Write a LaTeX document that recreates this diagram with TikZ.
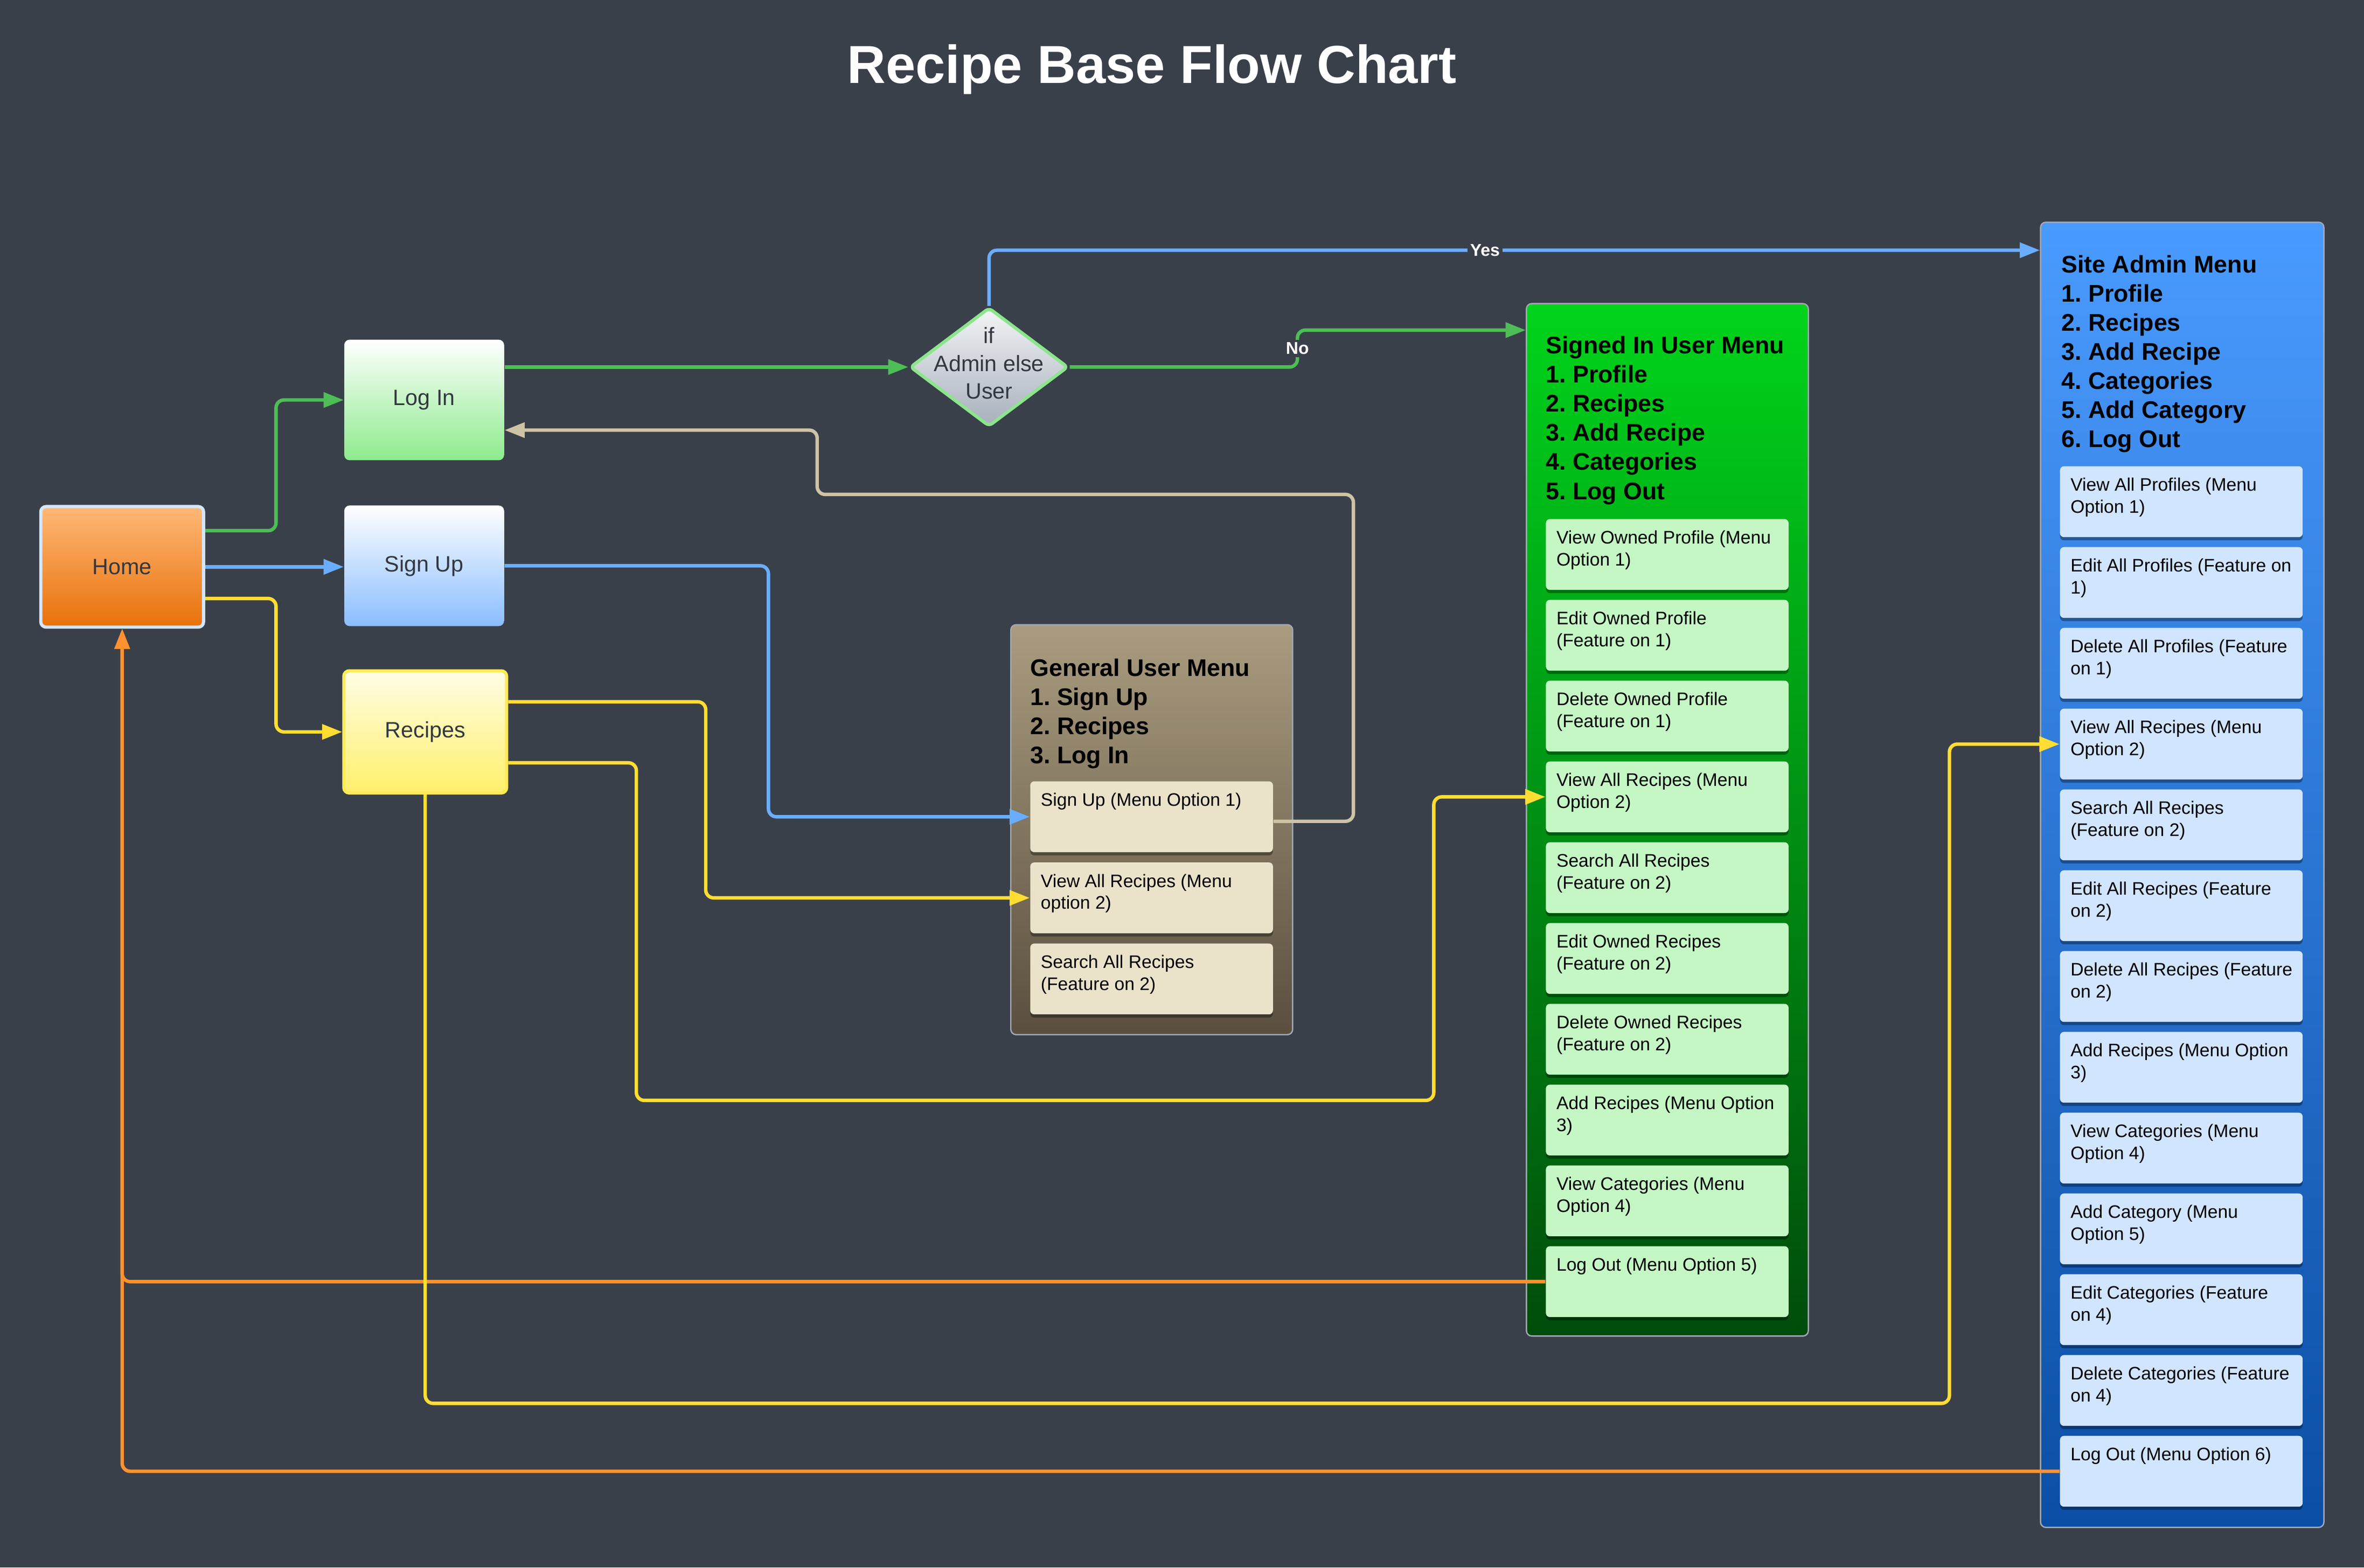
\documentclass[tikz,border=0pt]{standalone}
\usepackage{fontspec}
\setmainfont{Liberation Sans}
\usetikzlibrary{arrows.meta,shapes.geometric,shadows}
\frenchspacing
\definecolor{bg}{HTML}{3A404A}
\definecolor{hometop}{HTML}{FFB877}
\definecolor{homebot}{HTML}{E8710A}
\definecolor{homebd}{HTML}{D3E6FF}
\definecolor{loginbot}{HTML}{8DEB8D}
\definecolor{signupbot}{HTML}{8ABDFF}
\definecolor{rectop}{HTML}{FFFDE6}
\definecolor{recbot}{HTML}{FFF06A}
\definecolor{recbd}{HTML}{FFEB55}
\definecolor{dectop}{HTML}{F3F4F6}
\definecolor{decbot}{HTML}{A7B0BC}
\definecolor{decbd}{HTML}{8BE68B}
\definecolor{gcol}{HTML}{4DBE55}
\definecolor{bcol}{HTML}{6AADFF}
\definecolor{ycol}{HTML}{FFDD33}
\definecolor{tcol}{HTML}{CFC3A5}
\definecolor{ocol}{HTML}{FF922E}
\definecolor{gentop}{HTML}{A99C7F}
\definecolor{genbot}{HTML}{5A4F3F}
\definecolor{sigtop}{HTML}{00D41B}
\definecolor{sigbot}{HTML}{004C0B}
\definecolor{admtop}{HTML}{4A9BFF}
\definecolor{admbot}{HTML}{0B4EA5}
\definecolor{gsub}{HTML}{EAE3CA}
\definecolor{ssub}{HTML}{C5F7C5}
\definecolor{asub}{HTML}{D1E5FF}
\definecolor{menubd}{HTML}{A3A9B3}
\definecolor{boxtext}{HTML}{333840}
\newcommand\stx[2]{\vtop to 0.628cm{\hbox to 2.94cm{#1\hss}\hbox to 2.94cm{#2\hss}\vss}}
\begin{document}
\begin{tikzpicture}[x=0.02cm,y=-0.02cm,
  mainbox/.style={anchor=north west, rounded corners=2pt, inner sep=0pt,
    text=boxtext, font=\fontsize{8.4}{10}\selectfont},
  menubox/.style={anchor=north west, rounded corners=2pt, draw=menubd, line width=0.5pt, inner sep=0pt},
  hdr/.style={anchor=north west, inner sep=0pt, align=left, text=black,
    font=\fontsize{9.1}{11}\selectfont\bfseries},
  sub/.style={anchor=north west, rounded corners=1.5pt, minimum width=3.22cm, minimum height=0.94cm,
    inner xsep=0.14cm, inner ysep=0.156cm, text=black, font=\fontsize{6.85}{8.25}\selectfont,
    drop shadow={shadow xshift=0pt, shadow yshift=-1.2pt, opacity=0.35, fill=black}},
  conn/.style={line width=1.3pt, rounded corners=3pt, -{Triangle[length=7.6pt,width=5.6pt]}},
  lbl/.style={fill=bg, inner sep=1pt, text=white, font=\fontsize{6.5}{7}\selectfont\bfseries}
]
\fill[bg] (0,0) rectangle (1568,1040);
\useasboundingbox (0,0) rectangle (1568,1040);

\node[anchor=base, inner sep=0pt, text=white, font=\fontsize{20.2}{24}\selectfont\bfseries] (title) at (764,55.1) {Recipe Base Flow Chart};

% main nodes
\node[mainbox, top color=hometop, bottom color=homebot, draw=homebd, line width=1.2pt,
  minimum width=2.16cm, minimum height=1.6cm] (home) at (26,335) {Home};
\node[mainbox, top color=white, bottom color=loginbot,
  minimum width=2.12cm, minimum height=1.6cm] (login) at (228,225) {Log In};
\node[mainbox, top color=white, bottom color=signupbot,
  minimum width=2.12cm, minimum height=1.6cm] (signup) at (228,335) {Sign Up};
\node[mainbox, top color=rectop, bottom color=recbot, draw=recbd, line width=1.2pt,
  minimum width=2.16cm, minimum height=1.62cm] (recipes) at (227,444) {Recipes};

% decision
\node[diamond, minimum width=2.1cm, minimum height=1.58cm, inner sep=0pt, rounded corners=1.5pt,
  top color=dectop, bottom color=decbot, draw=decbd, line width=1.2pt] (dec) at (656,243.5) {};
\node[align=center, inner sep=0pt, text=boxtext, font=\fontsize{8.4}{10.5}\selectfont] (dect) at (656,241) {if\\Admin else\\User};

% general user menu
\node[menubox, top color=gentop, bottom color=genbot, minimum width=3.74cm, minimum height=5.44cm] (gen) at (670,414) {};
\node[hdr] (genh) at (683,436.6) {General User Menu\\1. Sign Up\\2. Recipes\\3. Log In};
\node[sub, fill=gsub] (gsu) at (683,518) {\stx{Sign Up (Menu Option 1)}{}};
\node[sub, fill=gsub] (gva) at (683,571.8) {\stx{View All Recipes (Menu}{option 2)}};
\node[sub, fill=gsub] (gsa) at (683,625.6) {\stx{Search All Recipes}{(Feature on 2)}};

% signed in user menu
\node[menubox, top color=sigtop, bottom color=sigbot, minimum width=3.74cm, minimum height=13.7cm] (signed) at (1012,201) {};
\node[hdr] (signedh) at (1025,222.7) {Signed In User Menu\\1. Profile\\2. Recipes\\3. Add Recipe\\4. Categories\\5. Log Out};
\node[sub, fill=ssub] (s1) at (1025,344) {\stx{View Owned Profile (Menu}{Option 1)}};
\node[sub, fill=ssub] (s2) at (1025,397.6) {\stx{Edit Owned Profile}{(Feature on 1)}};
\node[sub, fill=ssub] (s3) at (1025,451.2) {\stx{Delete Owned Profile}{(Feature on 1)}};
\node[sub, fill=ssub] (sva) at (1025,504.8) {\stx{View All Recipes (Menu}{Option 2)}};
\node[sub, fill=ssub] (s5) at (1025,558.4) {\stx{Search All Recipes}{(Feature on 2)}};
\node[sub, fill=ssub] (s6) at (1025,612) {\stx{Edit Owned Recipes}{(Feature on 2)}};
\node[sub, fill=ssub] (s7) at (1025,665.6) {\stx{Delete Owned Recipes}{(Feature on 2)}};
\node[sub, fill=ssub] (s8) at (1025,719.2) {\stx{Add Recipes (Menu Option}{3)}};
\node[sub, fill=ssub] (s9) at (1025,772.8) {\stx{View Categories (Menu}{Option 4)}};
\node[sub, fill=ssub] (slo) at (1025,826.4) {\stx{Log Out (Menu Option 5)}{}};

% site admin menu
\node[menubox, top color=admtop, bottom color=admbot, minimum width=3.76cm, minimum height=17.32cm] (admin) at (1353,147) {};
\node[hdr] (adminh) at (1367,168.9) {Site Admin Menu\\1. Profile\\2. Recipes\\3. Add Recipe\\4. Categories\\5. Add Category\\6. Log Out};
\node[sub, fill=asub] (a1) at (1366,309) {\stx{View All Profiles (Menu}{Option 1)}};
\node[sub, fill=asub] (a2) at (1366,362.6) {\stx{Edit All Profiles (Feature on}{1)}};
\node[sub, fill=asub] (a3) at (1366,416.2) {\stx{Delete All Profiles (Feature}{on 1)}};
\node[sub, fill=asub] (ava) at (1366,469.8) {\stx{View All Recipes (Menu}{Option 2)}};
\node[sub, fill=asub] (a5) at (1366,523.4) {\stx{Search All Recipes}{(Feature on 2)}};
\node[sub, fill=asub] (a6) at (1366,577) {\stx{Edit All Recipes (Feature}{on 2)}};
\node[sub, fill=asub] (a7) at (1366,630.6) {\stx{Delete All Recipes (Feature}{on 2)}};
\node[sub, fill=asub] (a8) at (1366,684.2) {\stx{Add Recipes (Menu Option}{3)}};
\node[sub, fill=asub] (a9) at (1366,737.8) {\stx{View Categories (Menu}{Option 4)}};
\node[sub, fill=asub] (a10) at (1366,791.4) {\stx{Add Category (Menu}{Option 5)}};
\node[sub, fill=asub] (a11) at (1366,845) {\stx{Edit Categories (Feature}{on 4)}};
\node[sub, fill=asub] (a12) at (1366,898.6) {\stx{Delete Categories (Feature}{on 4)}};
\node[sub, fill=asub] (alo) at (1366,952.2) {\stx{Log Out (Menu Option 6)}{}};

% connectors
\draw[conn, draw=ocol, -{Triangle[length=7.6pt,width=5.6pt,fill=ocol]}] (slo.west) -| (home.south);
\draw[conn, draw=ocol, -{Triangle[length=7.6pt,width=5.6pt,fill=ocol]}] (alo.west) -| (home.south);
\draw[conn, draw=gcol] ([shift={(0,-24)}]home.east) -- ++(47,0) |- (login.west);
\draw[conn, draw=bcol] (home.east) -- (home.east -| signup.west);
\draw[conn, draw=ycol] ([shift={(0,21)}]home.east) -- ++(47,0) |- (recipes.west);
\draw[conn, draw=gcol] (login.east |- dec.west) -- (dec.west);
\draw[conn, draw=bcol] (dec.north) |- node[lbl, pos=0.736] (yes) {Yes} ([shift={(0,19)}]admin.north west);
\draw[conn, draw=gcol] (dec.east) -- ++(151,0) |- node[lbl, pos=0.25] (no) {No} ([shift={(0,18)}]signed.north west);
\draw[conn, draw=tcol] ([shift={(0,3)}]gsu.east) -- ++(53,0) |- (542,328) |- ([shift={(0,20)}]login.east);
\draw[conn, draw=bcol] (signup.east) -- ++(175,0) |- (gsu.west);
\draw[conn, draw=ycol] ([shift={(0,-20)}]recipes.east) -- ++(131,0) |- (gva.west);
\draw[conn, draw=ycol] ([shift={(0,20.5)}]recipes.east) -- ++(85,0) |- (951,730) |- (sva.west);
\draw[conn, draw=ycol] (recipes.south) |- (1293,931) |- (ava.west);
\end{tikzpicture}
\end{document}
